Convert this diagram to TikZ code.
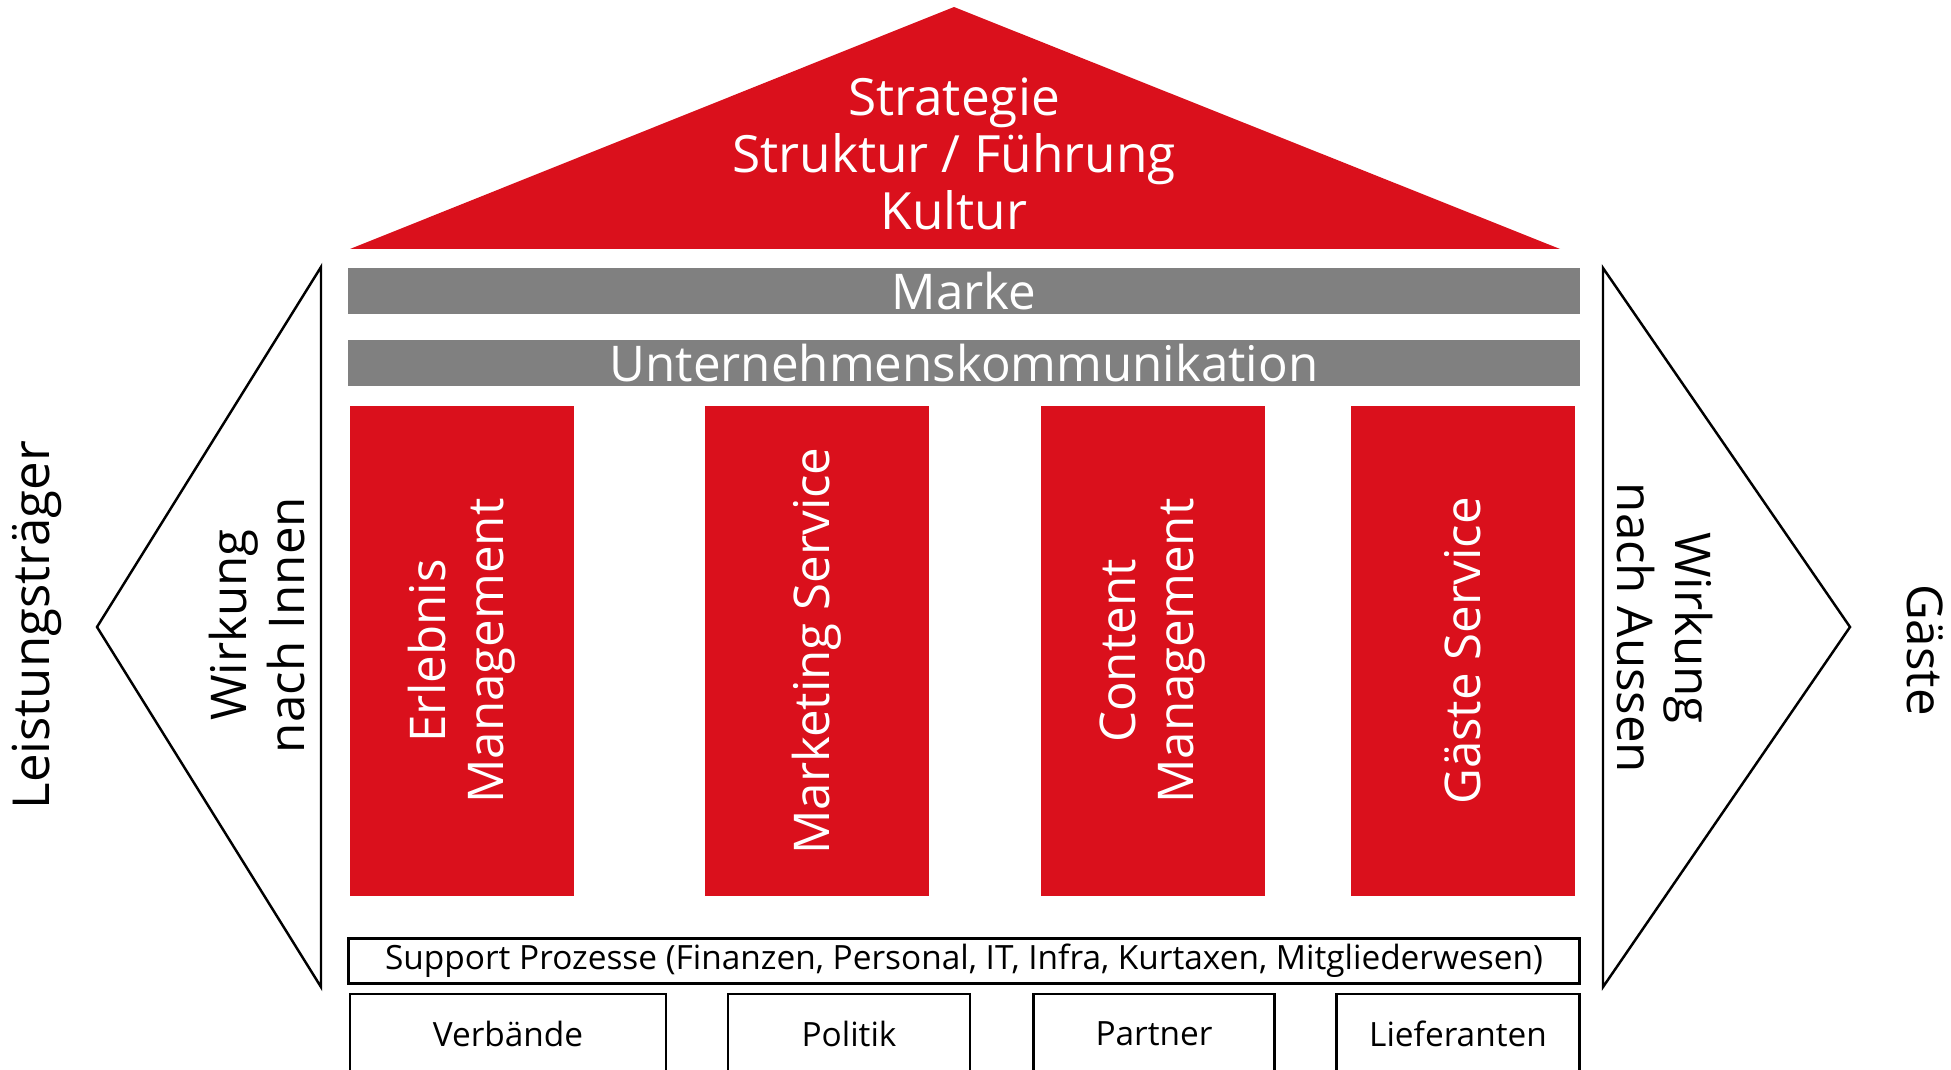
\documentclass[tikz,border=0pt]{standalone}
\usepackage{fontspec}
\setmainfont{Open Sans}
\definecolor{houseRed}{RGB}{218,16,28}
\definecolor{beamGray}{RGB}{128,128,128}
\tikzset{
  bigtext/.style={font=\fontsize{14}{16.5}\selectfont, align=center},
  smalltext/.style={font=\fontsize{9.5}{11}\selectfont},
  beam/.style={fill=beamGray, text=white, bigtext, minimum width=12.32cm, minimum height=0.45cm, inner sep=0pt},
  pillar/.style={fill=houseRed, text=white, bigtext, rotate=90, minimum width=4.9cm, minimum height=2.24cm, inner sep=0pt},
  basebox/.style={draw, line width=0.7pt, smalltext, minimum width=#1, minimum height=1.0cm, inner sep=0pt}
}
\begin{document}
\begin{tikzpicture}[x=0.01cm, y=-0.01cm]
\useasboundingbox (0,0) rectangle (1951,1070);

% Roof
\fill[houseRed] (350,249) -- (954,7) -- (1560,249) -- cycle;
\node[bigtext, text=white, font=\fontsize{14.6}{16.3}\selectfont] (roof) at (954,154) {Strategie\\Struktur / Führung\\Kultur};

% Beams
\node[beam] (marke) at (964,291) {Marke};
\node[beam] (komm) at (964,363) {Unternehmenskommunikation};

% Pillars
\node[pillar] (erlebnis) at (462,651) {Erlebnis\\Management};
\node[pillar] (marketing) at (817,651) {Marketing Service};
\node[pillar] (content) at (1153,651) {Content\\Management};
\node[pillar] (gaeste) at (1463,651) {Gäste Service};

% Support processes
\node[draw, line width=0.7pt, smalltext, minimum width=12.3cm, minimum height=0.45cm, inner sep=0pt] (support) at (964,961)
  {Support Prozesse (Finanzen, Personal, IT, Infra, Kurtaxen, Mitgliederwesen)};

% Foundation boxes
\node[basebox=3.16cm] (verbaende) at (508,1044) {};
\node[basebox=2.42cm] (politik) at (849,1044) {};
\node[basebox=2.41cm] (partner) at (1154,1044) {};
\node[basebox=2.43cm] (lieferanten) at (1458,1044) {};
\node[smalltext] (verbaendeText) at (508,1034) {Verbände};
\node[smalltext] (politikText) at (849,1034) {Politik};
\node[smalltext] (partnerText) at (1154,1034) {Partner};
\node[smalltext] (lieferantenText) at (1458,1034) {Lieferanten};

% Side arrows
\draw[line width=0.7pt, line join=miter] (321,267) -- (97,627) -- (321,987) -- cycle;
\draw[line width=0.7pt, line join=miter] (1603,268) -- (1850,627) -- (1603,987) -- cycle;

% Side labels
\node[bigtext, rotate=90] (innen) at (257,625) {Wirkung\\nach Innen};
\node[bigtext, rotate=-90] (aussen) at (1665,628) {Wirkung\\nach Aussen};
\node[bigtext, rotate=90, font=\fontsize{14.5}{17}\selectfont] (leistung) at (37,625) {Leistungsträger};
\node[bigtext, rotate=-90] (gaesteLabel) at (1925,650) {Gäste};

\end{tikzpicture}
\end{document}
